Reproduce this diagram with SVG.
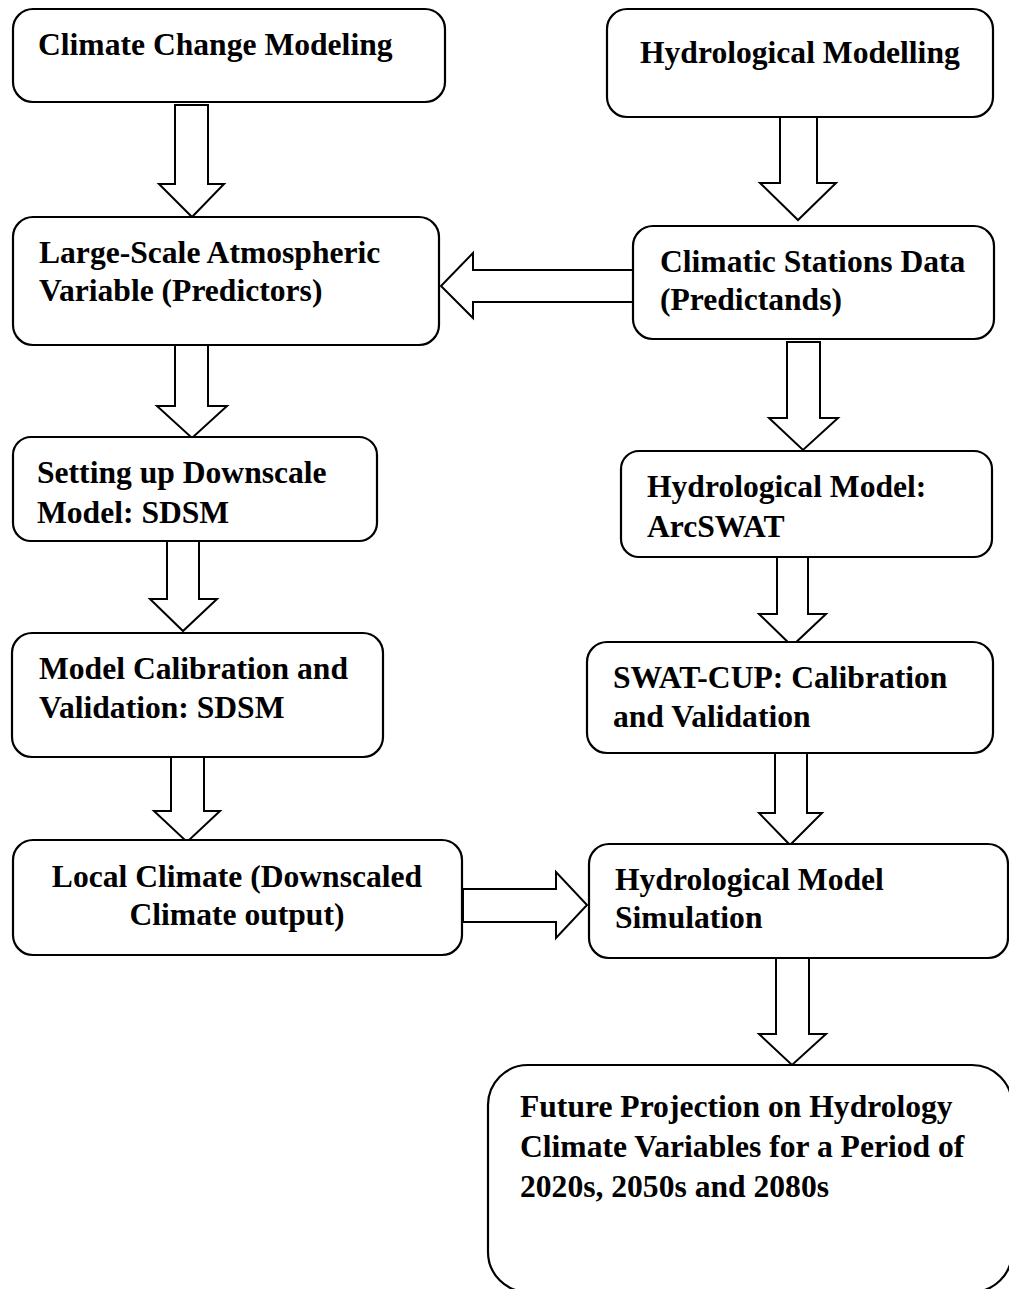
<svg xmlns="http://www.w3.org/2000/svg" width="1009" height="1289" viewBox="0 0 1009 1289">
<style>
.box{fill:#fff;stroke:#000;stroke-width:2.2}
.arr{fill:#fff;stroke:#000;stroke-width:2;stroke-linejoin:miter}
.t{font-family:'Liberation Serif','Times New Roman',Times,serif;font-weight:700;font-size:31.6px;fill:#000}
</style>
<rect width="1009" height="1289" fill="#fff"/>
<g id="connectors">
<polygon class="arr" points="175,105 208,105 208,184 224,184 192,217 159,184 175,184"/>
<polygon class="arr" points="780,114 817,114 817,183 836,183 798,220 760,183 780,183"/>
<polygon class="arr" points="633,270 473,270 473,253 441,286 473,318 473,302 633,302"/>
<polygon class="arr" points="175,345 208,345 208,406 227,406 192,438 157,406 175,406"/>
<polygon class="arr" points="787,342 820,342 820,418 838,418 803,450 769,418 787,418"/>
<polygon class="arr" points="167,541 199,541 199,599 217,599 183,631 150,599 167,599"/>
<polygon class="arr" points="777,557 808,557 808,614 826,614 792,646 759,614 777,614"/>
<polygon class="arr" points="171,757 204,757 204,811 220,811 187,842 154,811 171,811"/>
<polygon class="arr" points="775,753 807,753 807,813 822,813 790,845 759,813 775,813"/>
<polygon class="arr" points="463,889 556,889 556,872 587,905 556,938 556,922 463,922"/>
<polygon class="arr" points="776,958 809,958 809,1034 826,1034 792,1065 759,1034 776,1034"/>
</g>
<g id="n-climate-change">
<rect class="box" x="13" y="9" width="432" height="93" rx="20"/>
<text class="t" x="38" y="55">Climate Change Modeling</text>
</g>
<g id="n-hydro-modelling">
<rect class="box" x="607" y="9" width="386" height="108" rx="20"/>
<text class="t" x="640" y="63">Hydrological Modelling</text>
</g>
<g id="n-large-scale">
<rect class="box" x="13" y="217" width="426" height="128" rx="20"/>
<text class="t" x="39" y="263">Large-Scale Atmospheric</text>
<text class="t" x="39" y="301">Variable (Predictors)</text>
</g>
<g id="n-stations">
<rect class="box" x="633" y="226" width="361" height="113" rx="20"/>
<text class="t" x="660" y="272">Climatic Stations Data</text>
<text class="t" x="660" y="310">(Predictands)</text>
</g>
<g id="n-setting-up">
<rect class="box" x="13" y="437" width="364" height="104" rx="18"/>
<text class="t" x="37" y="483">Setting up Downscale</text>
<text class="t" x="37" y="523">Model: SDSM</text>
</g>
<g id="n-arcswat">
<rect class="box" x="621" y="451" width="371" height="106" rx="18"/>
<text class="t" x="647" y="497">Hydrological Model:</text>
<text class="t" x="647" y="537">ArcSWAT</text>
</g>
<g id="n-calibration">
<rect class="box" x="12" y="633" width="371" height="124" rx="20"/>
<text class="t" x="39" y="679">Model Calibration and</text>
<text class="t" x="39" y="718">Validation: SDSM</text>
</g>
<g id="n-swatcup">
<rect class="box" x="587" y="642" width="406" height="111" rx="20"/>
<text class="t" x="613" y="688">SWAT-CUP: Calibration</text>
<text class="t" x="613" y="727">and Validation</text>
</g>
<g id="n-local-climate">
<rect class="box" x="13" y="840" width="449" height="115" rx="20"/>
<text class="t" x="237" y="887" text-anchor="middle">Local Climate (Downscaled</text>
<text class="t" x="237" y="925" text-anchor="middle">Climate output)</text>
</g>
<g id="n-simulation">
<rect class="box" x="589" y="844" width="419" height="114" rx="20"/>
<text class="t" x="615" y="890">Hydrological Model</text>
<text class="t" x="615" y="928">Simulation</text>
</g>
<g id="n-future">
<rect class="box" x="488" y="1065" width="524" height="227" rx="40"/>
<text class="t" x="520" y="1117">Future Projection on Hydrology</text>
<text class="t" x="520" y="1157">Climate Variables for a Period of</text>
<text class="t" x="520" y="1197">2020s, 2050s and 2080s</text>
</g>
</svg>
